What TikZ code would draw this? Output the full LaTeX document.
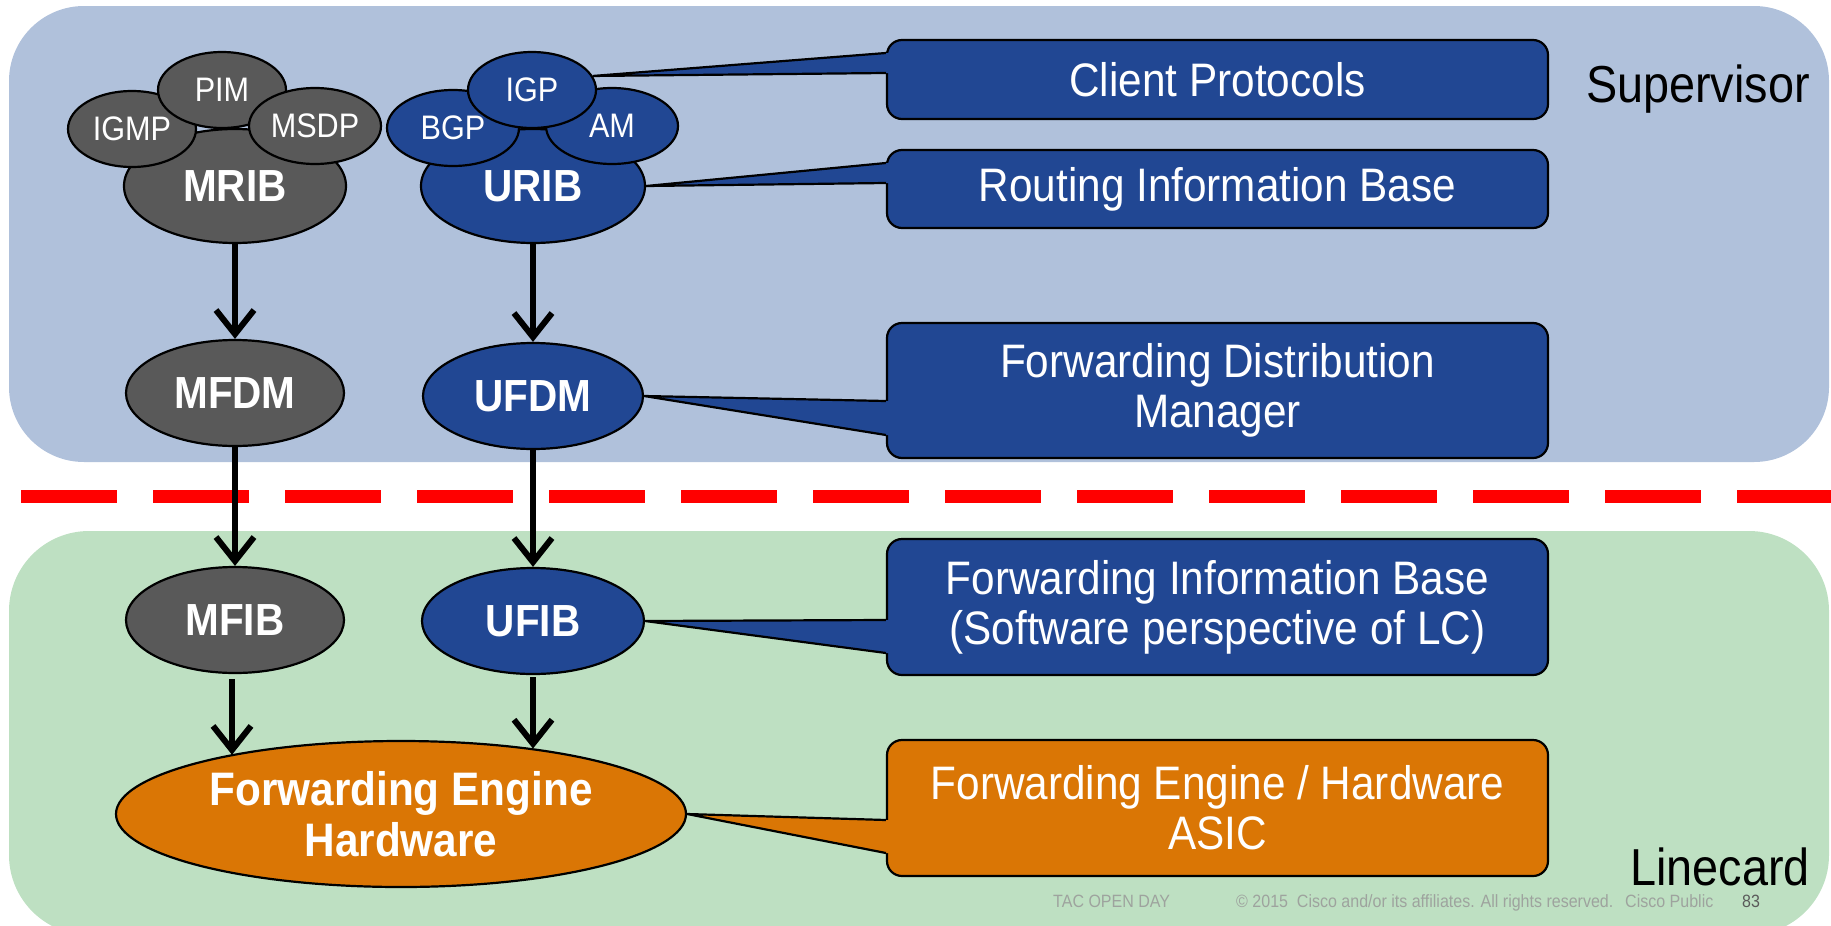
\documentclass[tikz,border=0pt]{standalone}
\usepackage{fontspec}
\setmainfont[FakeStretch=0.9]{Liberation Sans}
\usetikzlibrary{arrows.meta,shapes.geometric}

\definecolor{supbg}{RGB}{176,193,219}
\definecolor{lcbg}{RGB}{190,224,194}
\definecolor{ciscoblue}{RGB}{33,71,147}
\definecolor{darkgrey}{RGB}{89,89,89}
\definecolor{asicorange}{RGB}{218,118,5}
\definecolor{footgrey}{RGB}{158,163,158}
\definecolor{pagegrey}{RGB}{90,90,90}

% wedge joining a callout box to the element it describes
% #1 fill colour, #2 tip, #3 box node, #4 upper shift, #5 lower shift
\newcommand\calloutwedge[5]{%
  \fill[#1] (#2) -- ([yshift=#4]#3.west) -- ([yshift=#4,xshift=5pt]#3.west)
        -- ([yshift=#5,xshift=5pt]#3.west) -- ([yshift=#5]#3.west) -- cycle;
  \draw[edge] ([yshift=#4]#3.west) -- (#2) -- ([yshift=#5]#3.west);
}

\begin{document}
\begin{tikzpicture}[x=1pt,y=-1pt,
  edge/.style={draw=black,line width=2.2pt,line join=miter},
  oval/.style={ellipse,draw=black,line width=2.2pt,inner sep=0pt,text=white,
    font=\fontsize{34}{37}\selectfont},
  bigoval/.style={oval,font=\bfseries\fontsize{45}{50}\selectfont,align=center},
  mgrp/.style={fill=darkgrey},
  ugrp/.style={fill=ciscoblue},
  callout/.style={draw=black,line width=2.2pt,rounded corners=15pt,
    minimum width=661pt,inner sep=0pt,text=white,align=center,
    font=\fontsize{47}{50}\selectfont},
  arr/.style={line width=6pt,-{Straight Barb[length=24pt,width=38pt]}},
  paneltitle/.style={anchor=base east,inner sep=0pt,font=\fontsize{52}{56}\selectfont},
  foot/.style={anchor=base west,inner sep=0pt,text=footgrey,font=\fontsize{17.8}{20}\selectfont}
]
\useasboundingbox (0,0) rectangle (1831,926);

% panels
\fill[supbg, rounded corners=75pt] (9,6) rectangle (1829,462);
\fill[lcbg, rounded corners=80pt] (9,531) rectangle (1829,935);

% supervisor / linecard divider
\draw[red, line width=13pt, dash pattern=on 96pt off 36pt] (21,496) -- (1831,496);

% multicast stack
\node[bigoval,mgrp,minimum width=222pt,minimum height=114pt] (mrib) at (235,186) {MRIB};
\node[oval,mgrp,minimum width=128pt,minimum height=76pt] (igmp) at (132,129) {IGMP};
\node[oval,mgrp,minimum width=128pt,minimum height=76pt] (pim) at (222,90) {PIM};
\node[oval,mgrp,minimum width=132pt,minimum height=76pt] (msdp) at (315,126) {MSDP};
\node[bigoval,mgrp,minimum width=218pt,minimum height=106pt] (mfdm) at (235,393) {MFDM};
\node[bigoval,mgrp,minimum width=218pt,minimum height=106pt] (mfib) at (235,620) {MFIB};

% unicast stack
\node[bigoval,ugrp,minimum width=224pt,minimum height=114pt] (urib) at (533,186) {URIB};
\node[oval,ugrp,minimum width=132pt,minimum height=76pt] (bgp) at (453,128) {BGP};
\node[oval,ugrp,minimum width=132pt,minimum height=76pt] (am) at (612,126) {AM};
\node[oval,ugrp,minimum width=128pt,minimum height=76pt] (igp) at (532,90) {IGP};
\node[bigoval,ugrp,minimum width=220pt,minimum height=106pt] (ufdm) at (533,396) {UFDM};
\node[bigoval,ugrp,minimum width=222pt,minimum height=106pt] (ufib) at (533,621) {UFIB};

% hardware
\node[bigoval,fill=asicorange,minimum width=570pt,minimum height=146pt,
      font=\bfseries\fontsize{47}{51}\selectfont] (feh) at (401,814)
      {Forwarding Engine\\Hardware};

% flow arrows
\draw[arr] (mrib.south) -- (mfdm.north);
\draw[arr] (urib.south) -- (ufdm.north);
\draw[arr] (mfdm.south) -- (mfib.north);
\draw[arr] (ufdm.south) -- (ufib.north);
\draw[arr] ([xshift=-3pt,yshift=-5pt]mfib.south) -- ([xshift=-3pt]feh.161 -| mfib.south);
\draw[arr] ([yshift=-2pt]ufib.south) -- (feh.26 -| ufib.south);

% callouts
\node[callout,fill=ciscoblue,minimum height=79pt] (cp) at (1217.5,79.5) {Client Protocols};
\node[callout,fill=ciscoblue,minimum height=78pt] (rib) at (1217.5,189) {Routing Information Base};
\node[callout,fill=ciscoblue,minimum height=135pt] (fdm) at (1217.5,390.5) {Forwarding Distribution\\Manager};
\node[callout,fill=ciscoblue,minimum height=136pt] (fib) at (1217.5,607) {Forwarding Information Base\\(Software perspective of LC)};
\node[callout,fill=asicorange,minimum height=136pt] (fea) at (1217.5,808) {Forwarding Engine / Hardware\\ASIC};

\calloutwedge{ciscoblue}{igp.13}{cp}{26.5pt}{6.5pt}
\calloutwedge{ciscoblue}{urib.east}{rib}{26pt}{6pt}
\calloutwedge{ciscoblue}{ufdm.east}{fdm}{-10.5pt}{-44.5pt}
\calloutwedge{ciscoblue}{ufib.east}{fib}{-13pt}{-46pt}
\calloutwedge{asicorange}{feh.east}{fea}{-12pt}{-45pt}

% panel titles
\node[paneltitle] (sup) at (1810,102) {Supervisor};
\node[paneltitle] (lc) at (1810,885) {Linecard};

% footer
\node[foot] (f1) at (1053,907) {TAC OPEN DAY};
\node[foot] (f2) at (1236,907) {\textcopyright{} 2015\ \ Cisco and/or its affiliates. All rights reserved.};
\node[foot] (f3) at (1625,907) {Cisco Public};
\node[foot,text=pagegrey] (f4) at (1742,907) {83};
\end{tikzpicture}
\end{document}
